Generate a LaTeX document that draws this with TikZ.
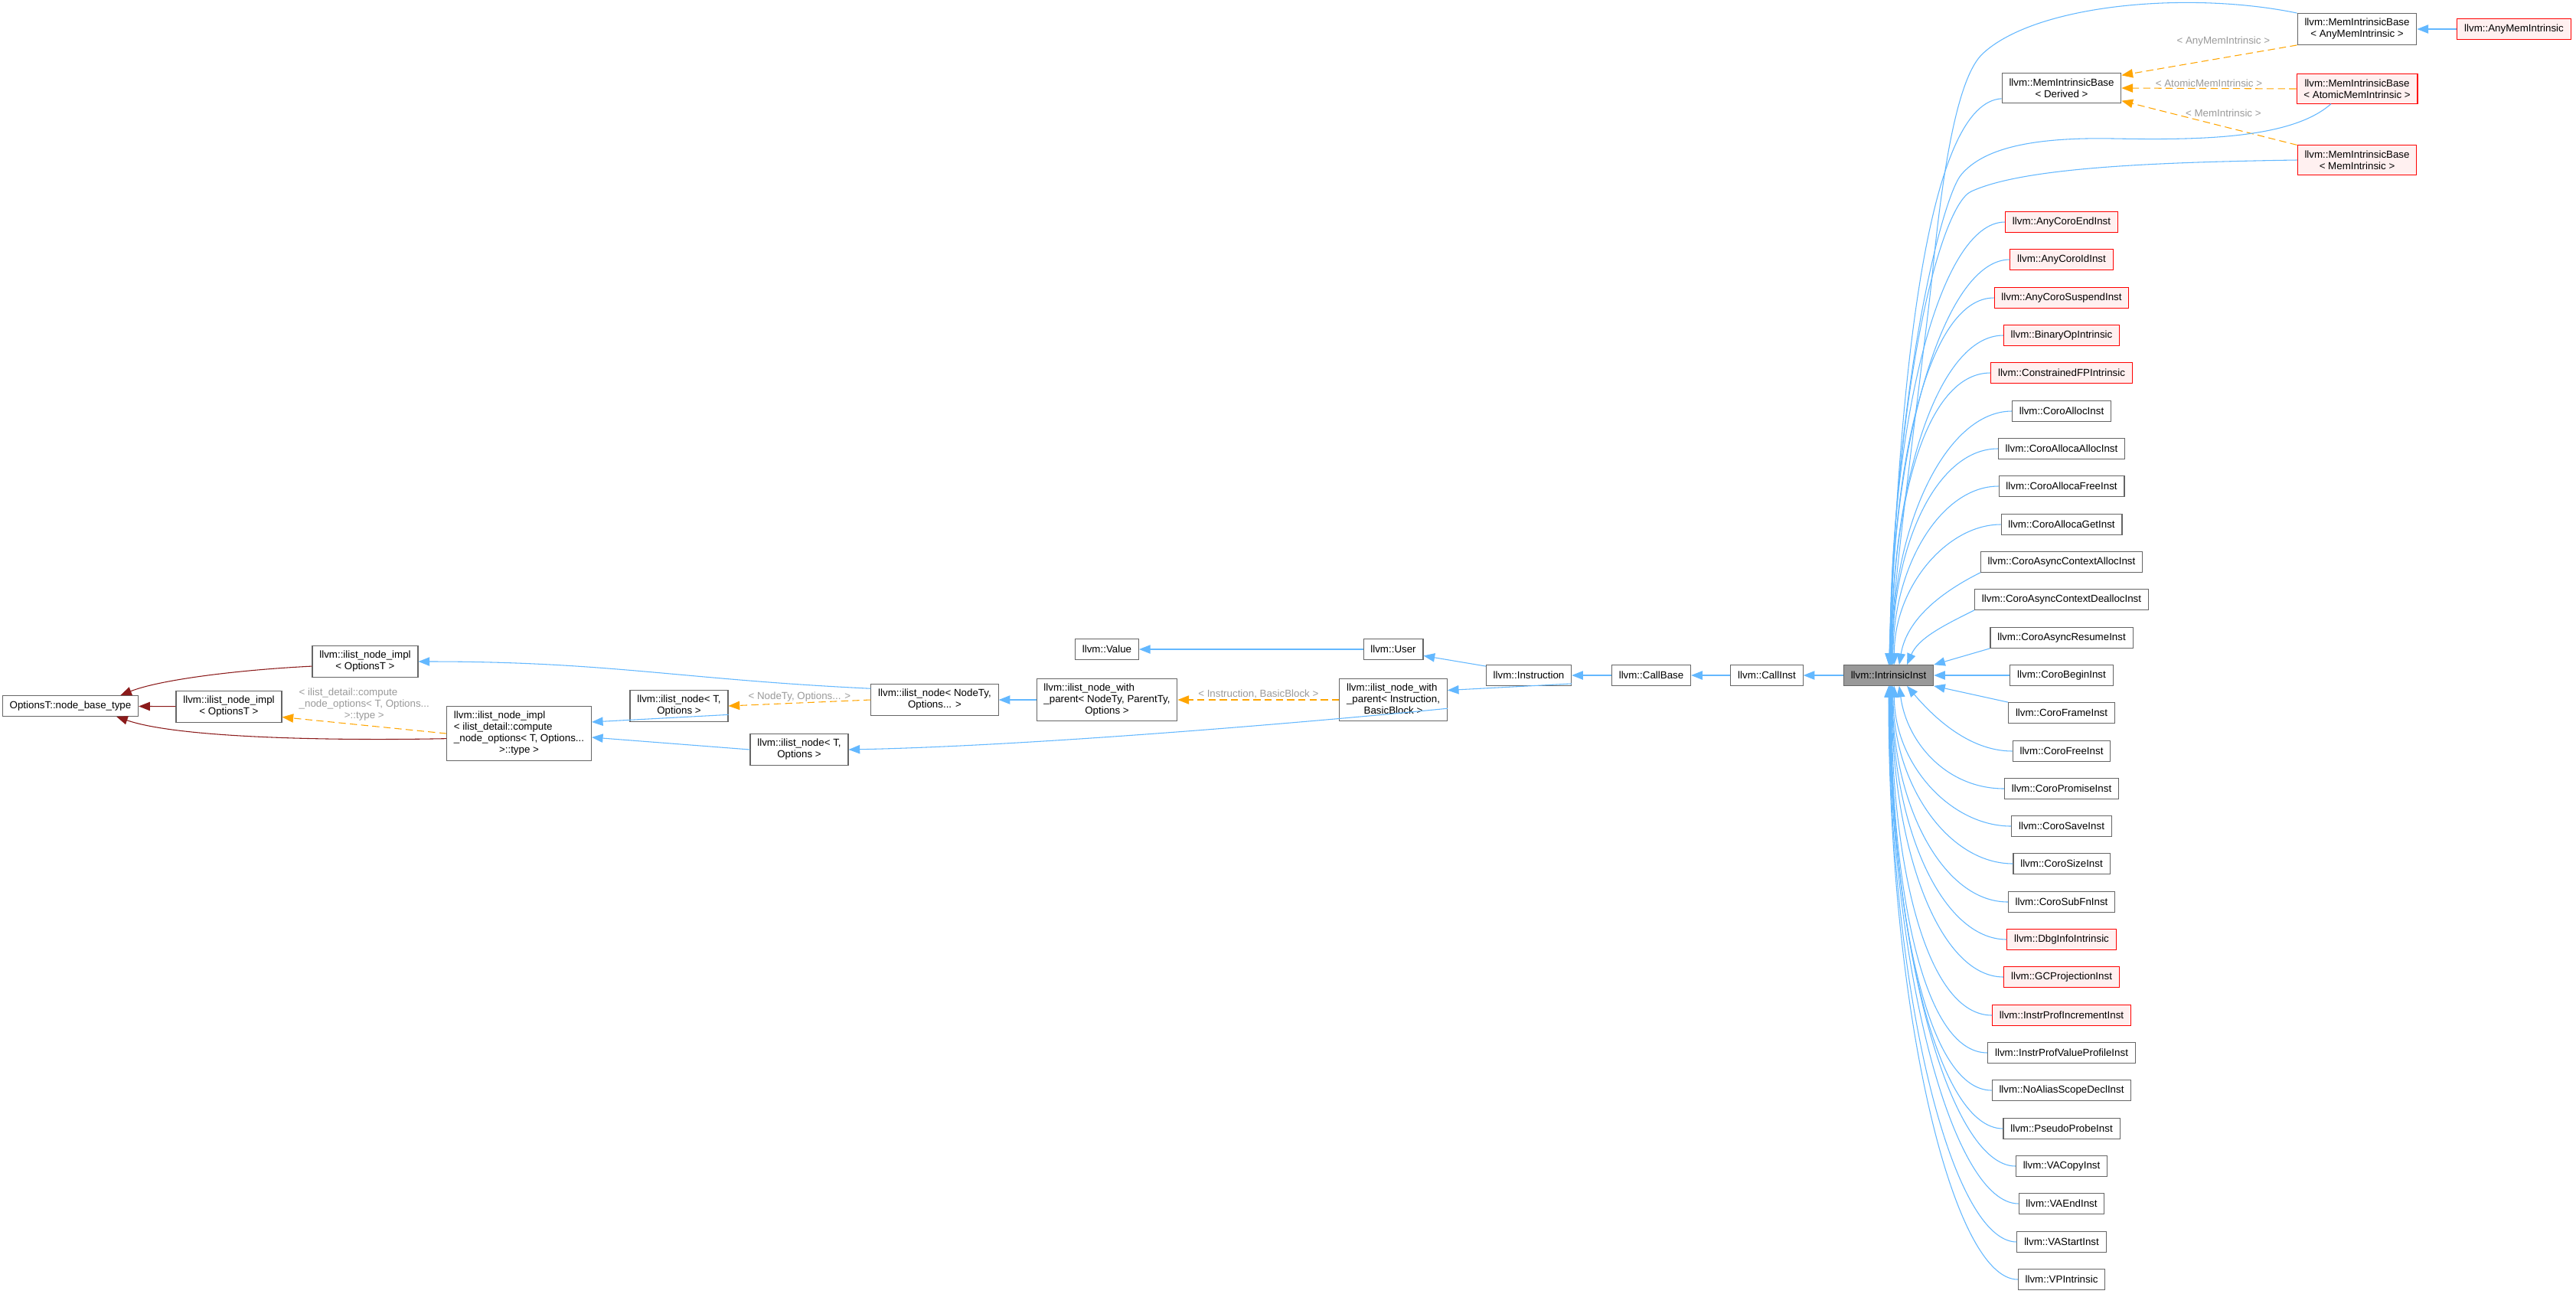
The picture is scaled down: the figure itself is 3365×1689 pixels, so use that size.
\documentclass[tikz,border=0pt]{standalone}
\usepackage{fontspec}
\setmainfont{Liberation Sans}
\usetikzlibrary{arrows.meta}

\definecolor{edgeblue}{HTML}{63B8FF}
\definecolor{tmplorange}{HTML}{FFA500}
\definecolor{privred}{HTML}{8B1A1A}
\definecolor{boxgray}{HTML}{666666}
\definecolor{redline}{HTML}{FF0000}
\definecolor{redfill}{HTML}{FFF0F0}
\definecolor{curfill}{HTML}{999999}
\definecolor{lblgray}{HTML}{9A9A9A}

\newcommand{\lastrow}[1]{\multicolumn{1}{@{}c@{}}{#1}}

\tikzset{
  cls/.style={draw=boxgray, fill=white, line width=0.8pt,
    font=\fontsize{10}{11.25}\selectfont, inner xsep=7pt, inner ysep=5pt,
    minimum height=20pt, align=center},
  clsred/.style={cls, draw=redline, fill=redfill},
  clscur/.style={cls, fill=curfill},
  tab/.style={inner ysep=4pt},
  pub/.style={draw=edgeblue, line width=0.8pt, -{Triangle[length=11pt,width=8.5pt]}},
  tmpl/.style={draw=tmplorange, line width=0.8pt, dash pattern=on 7pt off 4pt,
    -{Triangle[length=11pt,width=8.5pt]}},
  priv/.style={draw=privred, line width=0.8pt, -{Triangle[length=11pt,width=8.5pt]}},
  lbl/.style={text=lblgray, font=\fontsize{10}{11.25}\selectfont, inner sep=1pt, align=center}
}

\begin{document}
\begin{tikzpicture}[x=0.75pt,y=-0.75pt]
    \useasboundingbox (0,0) rectangle (3365,1689);
    \fill[white] (0,0) rectangle (3365,1689);

    % ilist base part
    \node[cls] (optT) at (92,922) {OptionsT::node\_base\_type};
    \node[cls] (implA) at (477,864) {llvm::ilist\_node\_impl\\< OptionsT >};
    \node[cls] (implB) at (299,923) {llvm::ilist\_node\_impl\\< OptionsT >};
    \node[cls,tab] (implC) at (678,958) {\begin{tabular}{@{}l@{}}llvm::ilist\_node\_impl\\< ilist\_detail::compute\\\_node\_options< T, Options...\\\lastrow{>::type >}\end{tabular}};
    \node[cls] (nodeA) at (887,922) {llvm::ilist\_node< T,\\Options >};
    \node[cls] (nodeB) at (1044,979) {llvm::ilist\_node< T,\\Options >};
    \node[cls] (nodeTy) at (1221,914) {llvm::ilist\_node< NodeTy,\\Options... >};
    \node[cls,tab] (wpGen) at (1446,914) {\begin{tabular}{@{}l@{}}llvm::ilist\_node\_with\\\_parent< NodeTy, ParentTy,\\\lastrow{Options >}\end{tabular}};
    \node[cls] (value) at (1446,848) {llvm::Value};
    \node[cls] (user) at (1820,848) {llvm::User};
    \node[cls,tab] (wpInst) at (1820,914) {\begin{tabular}{@{}l@{}}llvm::ilist\_node\_with\\\_parent< Instruction,\\\lastrow{BasicBlock >}\end{tabular}};

    % call chain
    \node[cls] (instr) at (1997,882) {llvm::Instruction};
    \node[cls] (callBase) at (2157,882) {llvm::CallBase};
    \node[cls] (callInst) at (2308,882) {llvm::CallInst};
    \node[clscur] (intr) at (2467,882) {llvm::IntrinsicInst};

    % mem intrinsic bases
    \node[cls] (memDer) at (2693,115) {llvm::MemIntrinsicBase\\< Derived >};
    \node[cls] (memAny) at (3079,38) {llvm::MemIntrinsicBase\\< AnyMemIntrinsic >};
    \node[clsred] (anyMem) at (3284,38) {llvm::AnyMemIntrinsic};
    \node[clsred] (memAtom) at (3079,116) {llvm::MemIntrinsicBase\\< AtomicMemIntrinsic >};
    \node[clsred] (memMem) at (3079,209) {llvm::MemIntrinsicBase\\< MemIntrinsic >};

    % derived classes
    \node[clsred] (coroEnd) at (2693,290) {llvm::AnyCoroEndInst};
    \node[clsred] (coroId) at (2693,339) {llvm::AnyCoroIdInst};
    \node[clsred] (coroSusp) at (2693,389) {llvm::AnyCoroSuspendInst};
    \node[clsred] (binOp) at (2693,438) {llvm::BinaryOpIntrinsic};
    \node[clsred] (constrFP) at (2693,487) {llvm::ConstrainedFPIntrinsic};
    \node[cls] (coroAlloc) at (2693,537) {llvm::CoroAllocInst};
    \node[cls] (allocaAlloc) at (2693,586) {llvm::CoroAllocaAllocInst};
    \node[cls] (allocaFree) at (2693,635) {llvm::CoroAllocaFreeInst};
    \node[cls] (allocaGet) at (2693,685) {llvm::CoroAllocaGetInst};
    \node[cls] (asyncAlloc) at (2693,734) {llvm::CoroAsyncContextAllocInst};
    \node[cls] (asyncDealloc) at (2693,783) {llvm::CoroAsyncContextDeallocInst};
    \node[cls] (asyncResume) at (2693,833) {llvm::CoroAsyncResumeInst};
    \node[cls] (coroBegin) at (2693,882) {llvm::CoroBeginInst};
    \node[cls] (coroFrame) at (2693,931) {llvm::CoroFrameInst};
    \node[cls] (coroFree) at (2693,981) {llvm::CoroFreeInst};
    \node[cls] (coroPromise) at (2693,1030) {llvm::CoroPromiseInst};
    \node[cls] (coroSave) at (2693,1079) {llvm::CoroSaveInst};
    \node[cls] (coroSize) at (2693,1128) {llvm::CoroSizeInst};
    \node[cls] (coroSubFn) at (2693,1178) {llvm::CoroSubFnInst};
    \node[clsred] (dbgInfo) at (2693,1227) {llvm::DbgInfoIntrinsic};
    \node[clsred] (gcProj) at (2693,1276) {llvm::GCProjectionInst};
    \node[clsred] (profInc) at (2693,1326) {llvm::InstrProfIncrementInst};
    \node[cls] (profVal) at (2693,1375) {llvm::InstrProfValueProfileInst};
    \node[cls] (noAlias) at (2693,1424) {llvm::NoAliasScopeDeclInst};
    \node[cls] (pseudoProbe) at (2693,1474) {llvm::PseudoProbeInst};
    \node[cls] (vaCopy) at (2693,1523) {llvm::VACopyInst};
    \node[cls] (vaEnd) at (2693,1572) {llvm::VAEndInst};
    \node[cls] (vaStart) at (2693,1622) {llvm::VAStartInst};
    \node[cls] (vpIntr) at (2693,1671) {llvm::VPIntrinsic};

    % left edges
    \draw[priv] (implA.185) .. controls +(-100,5) and +(50,-20) .. (optT.12);
    \draw[priv] (implB) -- (optT);
    \draw[priv] (implC.184) .. controls +(-150,3) and +(80,28) .. (optT.-13);
    \draw[tmpl] (implC.west) -- node[lbl, above=2pt] {\begin{tabular}{@{}l@{}}< ilist\_detail::compute\\\_node\_options< T, Options...\\\lastrow{>::type >}\end{tabular}} (implB.-11);
    \draw[pub] (nodeA.-10) -- (implC.9);
    \draw[pub] (nodeB.west) -- (implC.-3);
    \draw[pub] (nodeTy.170) .. controls +(-250,-12) and +(250,0) .. (implA.east);
    \draw[tmpl] (nodeTy.west) -- node[lbl, above] {< NodeTy, Options... >} (nodeA.east);
    \draw[pub] (wpGen.west) -- (nodeTy.east);
    \draw[pub] (wpInst.-9) .. controls +(-150,15) and +(250,-5) .. (nodeB.east);
    \draw[tmpl] (wpInst.west) -- node[lbl, above] {< Instruction, BasicBlock >} (wpGen.east);
    \draw[pub] (user) -- (value);
    \draw[pub] (instr.168) -- (user.-12);
    \draw[pub] (instr.-11) -- (wpInst.10);
    \draw[pub] (callBase) -- (instr);
    \draw[pub] (callInst) -- (callBase);
    \draw[pub] (intr) -- (callInst);

    % mem intrinsic edges
    \draw[pub] (anyMem) -- (memAny);
    \draw[tmpl] (memAny.south west) -- node[lbl, pos=0.42, above=10pt] {< AnyMemIntrinsic >} (memDer.12);
    \draw[tmpl] (memAtom.west) -- node[lbl, above] {< AtomicMemIntrinsic >} (memDer.east);
    \draw[tmpl] (memMem.north west) -- node[lbl, pos=0.42, above=8pt] {< MemIntrinsic >} (memDer.-12);
    \draw[pub] (memAny.north west) .. controls (2860,-12) and (2660,5) .. (2590,70)
        .. controls (2560,98) and (2540,200) .. (2525,350)
        .. controls (2515,450) and (2480,700) .. (intr.north);
    \draw[pub] (memDer.190) .. controls +(-93,5) and +(15,-410) .. (intr.88);
    \draw[pub] (memAtom.-150) .. controls (2993,182) and (2870,183) .. (2760,181)
        .. controls (2650,179) and (2590,195) .. (2562,228)
        .. controls (2537,257) and (2475,500) .. (intr.86);
    \draw[pub] (memMem.west) .. controls (2800,212) and (2640,220) .. (2575,250)
        .. controls (2535,268) and (2475,500) .. (intr.84);

    % derived class edges
    \draw[pub] (coroEnd.west) .. controls +(-85,0) and +(0,-318) .. (intr.82);
    \draw[pub] (coroId.west) .. controls +(-85,0) and +(0,-292) .. (intr.80);
    \draw[pub] (coroSusp.west) .. controls +(-85,0) and +(0,-265) .. (intr.78);
    \draw[pub] (binOp.west) .. controls +(-85,0) and +(0,-238) .. (intr.76);
    \draw[pub] (constrFP.west) .. controls +(-85,0) and +(0,-211) .. (intr.74);
    \draw[pub] (coroAlloc.west) .. controls +(-85,0) and +(0,-184) .. (intr.72);
    \draw[pub] (allocaAlloc.west) .. controls +(-80,0) and +(0,-156) .. (intr.70);
    \draw[pub] (allocaFree.west) .. controls +(-75,0) and +(0,-129) .. (intr.67);
    \draw[pub] (allocaGet.west) .. controls +(-70,0) and +(0,-102) .. (intr.62);
    \draw[pub] (asyncAlloc.south west) .. controls +(-50,25) and +(10,-60) .. (intr.45);
    \draw[pub] (asyncDealloc.south west) .. controls +(-40,20) and +(15,-35) .. (intr.30);
    \draw[pub] (asyncResume.south west) -- (intr.north east);
    \draw[pub] (coroBegin.west) -- (intr.east);
    \draw[pub] (coroFrame.north west) -- (intr.south east);
    \draw[pub] (coroFree.west) .. controls +(-60,0) and +(30,35) .. (intr.-30);
    \draw[pub] (coroPromise.west) .. controls +(-75,0) and +(10,74) .. (intr.-45);
    \draw[pub] (coroSave.west) .. controls +(-80,0) and +(0,101) .. (intr.-62);
    \draw[pub] (coroSize.west) .. controls +(-85,0) and +(0,128) .. (intr.-67);
    \draw[pub] (coroSubFn.west) .. controls +(-85,0) and +(0,155) .. (intr.-70);
    \draw[pub] (dbgInfo.west) .. controls +(-85,0) and +(0,183) .. (intr.-72);
    \draw[pub] (gcProj.west) .. controls +(-85,0) and +(0,210) .. (intr.-74);
    \draw[pub] (profInc.west) .. controls +(-85,0) and +(0,237) .. (intr.-76);
    \draw[pub] (profVal.west) .. controls +(-85,0) and +(0,263) .. (intr.-78);
    \draw[pub] (noAlias.west) .. controls +(-85,0) and +(0,291) .. (intr.-80);
    \draw[pub] (pseudoProbe.west) .. controls +(-85,0) and +(0,318) .. (intr.-82);
    \draw[pub] (vaCopy.west) .. controls +(-85,0) and +(0,345) .. (intr.-84);
    \draw[pub] (vaEnd.west) .. controls +(-85,0) and +(0,372) .. (intr.-86);
    \draw[pub] (vaStart.west) .. controls +(-85,0) and +(0,399) .. (intr.-88);
    \draw[pub] (vpIntr.west) .. controls +(-85,0) and +(0,426) .. (intr.south);
\end{tikzpicture}
\end{document}
